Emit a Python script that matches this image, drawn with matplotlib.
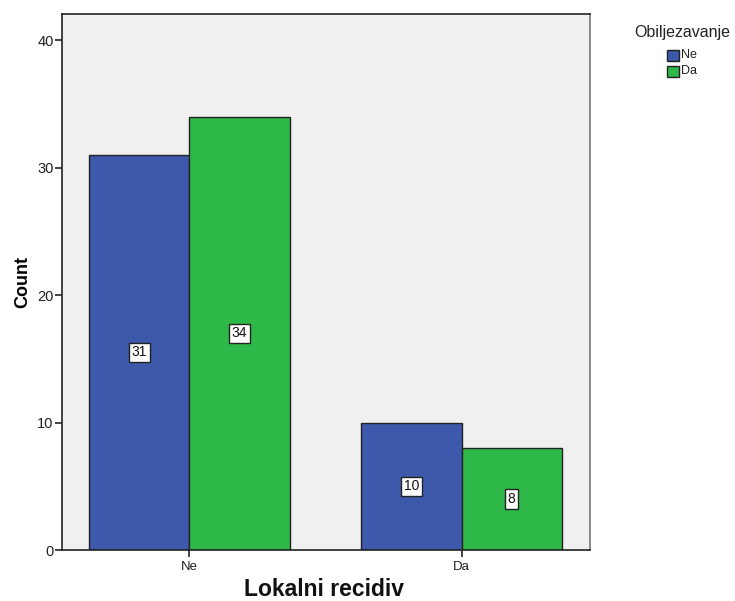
import matplotlib
matplotlib.use("Agg")
import matplotlib.pyplot as plt
import numpy as np
from matplotlib.patches import Rectangle

categories = ["Ne", "Da"]
series_names = ["Ne", "Da"]
values_ne = [31, 10]
values_da = [34, 8]
yticks = [0, 10, 20, 30, 40]

plt.rcParams['font.family'] = ['Liberation Sans', 'DejaVu Sans']

fig = plt.figure(figsize=(7.35, 6.01), dpi=100)
ax = fig.add_axes([62/735, 51/601, (590-62)/735, (550-13.5)/601])
ax.set_facecolor('#F0F0F0')

colors = ['#3E58AC', '#2EB848']
x = np.arange(len(categories))
w = 0.368
for i, (vals, col) in enumerate(zip([values_ne, values_da], colors)):
    offs = (i - 0.5) * w
    ax.bar(x + offs, vals, width=w, color=col, edgecolor='#222222', linewidth=1.0, zorder=2)
    for xi, v in zip(x, vals):
        ax.text(xi + offs, v / 2, str(v), ha='center', va='center', fontsize=10, zorder=3,
                color='#111111',
                bbox=dict(boxstyle='square,pad=0.2', fc='white', ec='#222222', lw=1.0))

ax.set_xlim(-0.468, 1.472)
ax.set_ylim(0, 42.1)
ax.set_xticks(x)
ax.set_xticklabels(categories, fontsize=9.5, color='#222222')
ax.set_yticks(yticks)
ax.set_yticklabels([str(t) for t in yticks], fontsize=10.5, color='#222222')
ax.tick_params(axis='both', length=5, width=1.2, color='#222222', pad=1)
ax.tick_params(axis='x', pad=3)
for s in ['left', 'bottom', 'top']:
    ax.spines[s].set_color('#222222')
    ax.spines[s].set_linewidth(1.2)
ax.spines['right'].set_color('#777777')
ax.spines['right'].set_linewidth(1.2)
ax.set_ylabel('Count', fontsize=13, fontweight='bold', labelpad=4)

fig.text(324/735, 5/601, 'Lokalni recidiv', ha='center', va='baseline', fontsize=16.5,
         fontweight='bold', color='#111111')

# legend
fig.text(682/735, 1 - 32/601, 'Obiljezavanje', ha='center', va='center', fontsize=11.5, color='#222222')
for j, (name, col) in enumerate(zip(series_names, colors)):
    yc = 1 - (55.5 + j * 16) / 601
    fig.patches.append(Rectangle((667/735, yc - 5.5/601), 12/735, 11/601, transform=fig.transFigure,
                                 facecolor=col, edgecolor='#222222', lw=1.0))
    fig.text(681/735, yc, name, ha='left', va='center', fontsize=9, color='#222222')

fig.savefig('out.png', dpi=100)
